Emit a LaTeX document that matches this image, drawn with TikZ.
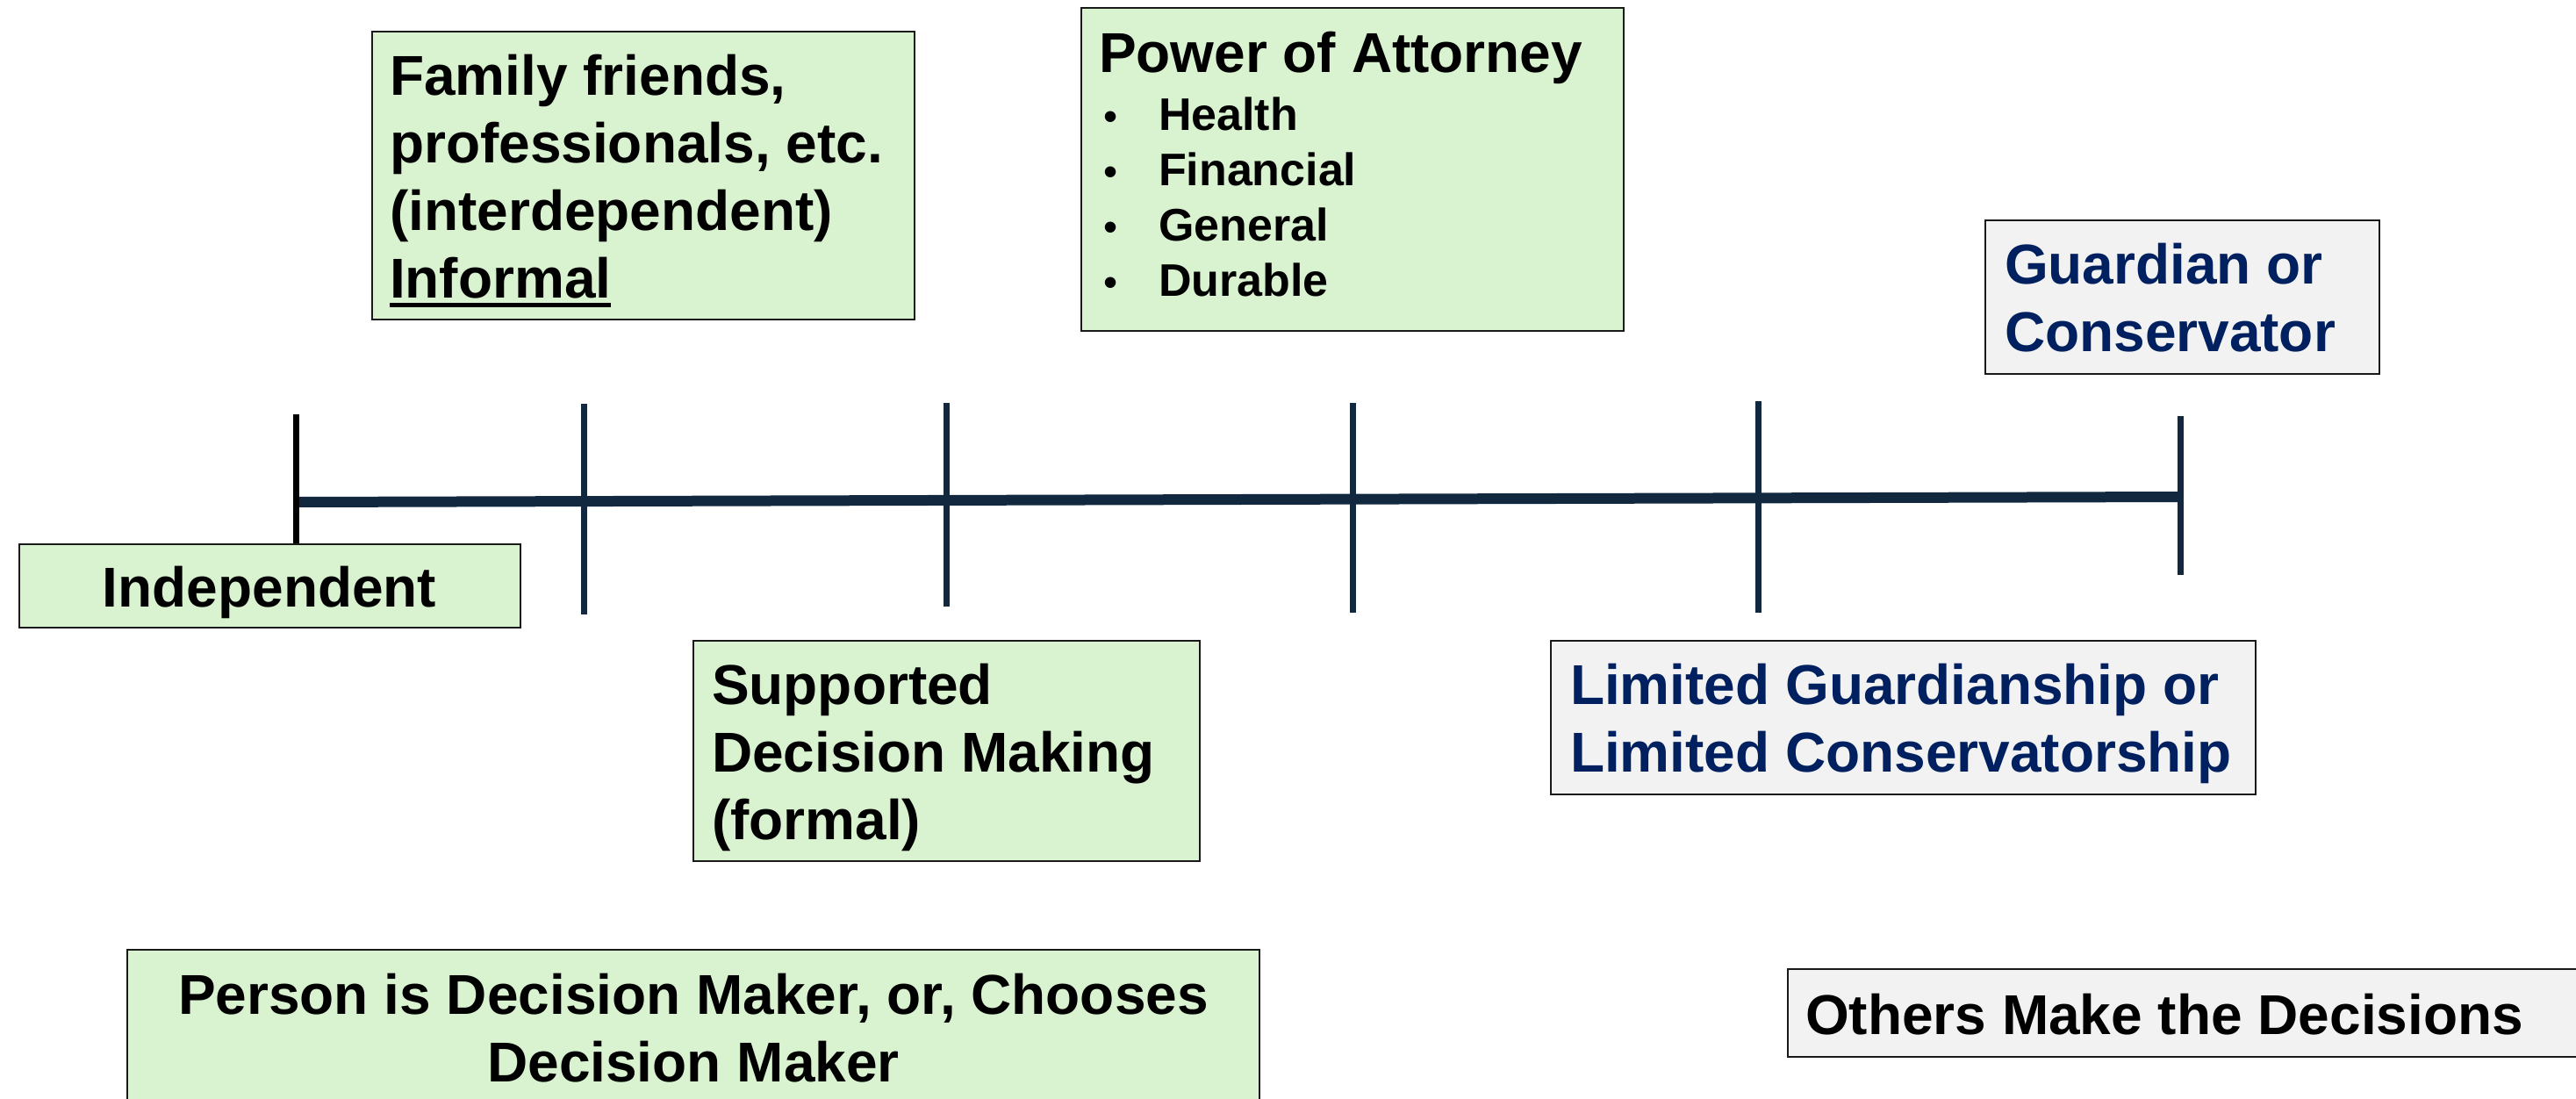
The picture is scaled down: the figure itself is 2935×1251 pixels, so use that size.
\documentclass[tikz,border=0pt]{standalone}
\usepackage{fontspec}
\setmainfont{Liberation Sans}

\definecolor{boxgreen}{HTML}{D9F2D0}
\definecolor{boxgray}{HTML}{F2F2F2}
\definecolor{navytext}{HTML}{002060}
\definecolor{linenavy}{HTML}{11283F}

\newcommand{\bigtxt}{\fontsize{64}{77}\selectfont\bfseries}
\newcommand{\smalltxt}{\fontsize{52}{63}\selectfont\bfseries}
\newcommand{\ulword}[1]{\leavevmode\setbox0=\hbox{#1}\rlap{\rule[-11pt]{\wd0}{5pt}}\box0}
\newcommand{\bul}{\makebox[65pt][l]{\hspace{2pt}{\mdseries\fontsize{46}{63}\selectfont\textbullet}}}

\begin{document}
\begin{tikzpicture}[x=1pt,y=-1pt,
  box/.style={draw=black!90, line width=2pt, inner sep=0pt, outer sep=0pt, anchor=north west},
  greenbox/.style={box, fill=boxgreen},
  graybox/.style={box, fill=boxgray},
  lbl/.style={inner sep=0pt, outer sep=0pt, anchor=base west, font=\bigtxt},
  navylbl/.style={lbl, text=navytext},
  axis/.style={draw=linenavy, line width=12pt},
  tickmark/.style={draw=linenavy, line width=7pt},
]
\useasboundingbox (0,0) rectangle (2935,1251);
\fill[white] (0,0) rectangle (2935,1251);

% timeline
\coordinate (axL) at (337,572);
\coordinate (axR) at (2484,566);
\draw[axis] (axL) -- (axR);

% tick marks
\coordinate (t1a) at (337,472);  \coordinate (t1b) at (337,620);
\coordinate (t2a) at (665,460);  \coordinate (t2b) at (665,700);
\coordinate (t3a) at (1078,459); \coordinate (t3b) at (1078,691);
\coordinate (t4a) at (1541,459); \coordinate (t4b) at (1541,698);
\coordinate (t5a) at (2003,457); \coordinate (t5b) at (2003,698);
\coordinate (t6a) at (2484,474); \coordinate (t6b) at (2484,655);
\draw[tickmark, draw=black] (t1a) -- (t1b);
\draw[tickmark] (t2a) -- (t2b);
\draw[tickmark] (t3a) -- (t3b);
\draw[tickmark] (t4a) -- (t4b);
\draw[tickmark] (t5a) -- (t5b);
\draw[tickmark] (t6a) -- (t6b);

% boxes
\node[greenbox, minimum width=571pt, minimum height=95pt]  (indepbox) at (22,620) {};
\node[greenbox, minimum width=618pt, minimum height=328pt] (familybox) at (424,36) {};
\node[greenbox, minimum width=618pt, minimum height=368pt] (poabox) at (1232,9) {};
\node[greenbox, minimum width=577pt, minimum height=251pt] (sdmbox) at (790,730) {};
\node[graybox,  minimum width=803pt, minimum height=175pt] (limbox) at (1767,730) {};
\node[graybox,  minimum width=449pt, minimum height=175pt] (guardbox) at (2262,251) {};
\node[greenbox, minimum width=1290pt, minimum height=260pt] (personbox) at (145,1082) {};
\node[graybox,  minimum width=950pt, minimum height=100pt] (othersbox) at (2037,1104) {};

% texts
\node[lbl, anchor=base] (indep) at (307,691) {Independent};
\node[lbl] (family) at (444,108) {\begin{tabular}[t]{@{}l@{}}Family friends,\\ professionals, etc.\\ (interdependent)\\ \ulword{Informal}\end{tabular}};
\node[lbl] (poa) at (1252,82) {Power of Attorney};
\node[lbl, font=\smalltxt] (poaitems) at (1255,148) {\begin{tabular}[t]{@{}l@{}}\bul Health\\ \bul Financial\\ \bul General\\ \bul Durable\end{tabular}};
\node[lbl] (sdm) at (811,802) {\begin{tabular}[t]{@{}l@{}}Supported\\ Decision Making\\ (formal)\end{tabular}};
\node[navylbl] (lim) at (1789,802) {\begin{tabular}[t]{@{}l@{}}Limited Guardianship or\\ Limited Conservatorship\end{tabular}};
\node[navylbl] (guard) at (2284,323) {\begin{tabular}[t]{@{}l@{}}Guardian or\\ Conservator\end{tabular}};
\node[lbl, anchor=base] (person) at (790,1155) {\begin{tabular}[t]{@{}c@{}}Person is Decision Maker, or, Chooses\\ Decision Maker\end{tabular}};
\node[lbl] (others) at (2057,1178) {Others Make the Decisions};
\end{tikzpicture}
\end{document}
